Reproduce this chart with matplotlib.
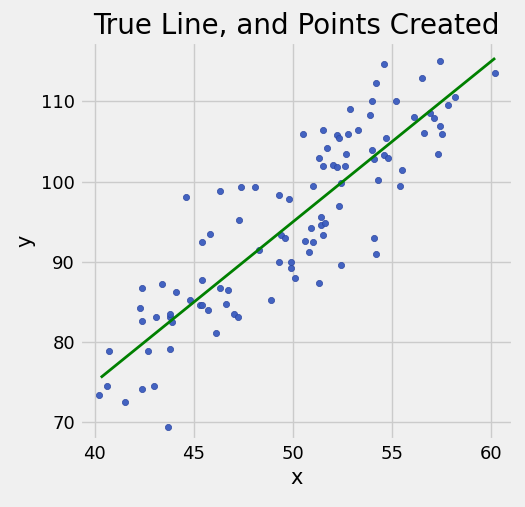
import matplotlib
matplotlib.use("Agg")
import matplotlib.pyplot as plt
import numpy as np

x_vals = [40.2, 40.6, 40.7, 41.5, 42.3, 42.4, 42.4, 42.4, 42.7, 43.0, 43.1, 43.4, 43.7, 43.8, 43.8, 43.8,
          43.9, 44.1, 44.6, 44.8, 45.3, 45.4, 45.4, 45.4, 45.7, 45.8, 46.1, 46.3, 46.3, 46.6, 46.7, 47.0,
          47.2, 47.3, 47.4, 48.1, 48.3, 48.9, 49.3, 49.3, 49.4, 49.6, 49.8, 49.9, 49.9, 50.1, 50.5, 50.6,
          50.8, 50.9, 51.0, 51.0, 51.3, 51.3, 51.4, 51.4, 51.5, 51.5, 51.5, 51.6, 51.7, 52.0, 52.2, 52.3,
          52.2, 52.3, 52.4, 52.4, 52.6, 52.7, 52.8, 52.9, 53.3, 53.9, 54.0, 54.0, 54.1, 54.1, 54.2, 54.2,
          54.3, 54.6, 54.6, 54.7, 54.8, 55.2, 55.4, 55.5, 56.1, 56.5, 56.6, 56.9, 57.1, 57.3, 57.4, 57.4,
          57.5, 57.8, 58.2, 60.2]
y_vals = [73.4, 74.5, 78.9, 72.5, 84.2, 82.7, 86.7, 74.2, 78.9, 74.5, 83.1, 87.2, 69.4, 83.1, 83.5, 79.1,
          82.5, 86.3, 98.1, 85.2, 84.6, 84.6, 92.5, 87.7, 84.0, 93.5, 81.1, 86.8, 98.9, 84.8, 86.5, 83.5,
          83.2, 95.2, 99.4, 99.4, 91.5, 85.2, 98.3, 90.0, 93.3, 93.0, 97.9, 90.0, 89.2, 88.0, 106.0, 92.6,
          91.3, 94.2, 92.5, 99.5, 87.4, 103.0, 95.6, 94.6, 106.5, 93.4, 102.0, 94.8, 104.2, 102.1, 105.8, 105.5,
          101.8, 97.0, 89.6, 99.9, 102.0, 103.5, 106.0, 109.0, 106.5, 108.3, 110.1, 104.0, 102.8, 93.0, 91.0, 112.3,
          100.2, 114.7, 103.3, 105.5, 102.9, 110.0, 99.5, 101.5, 108.1, 112.9, 106.1, 108.6, 108.0, 103.5, 115.1, 107.0,
          105.9, 109.6, 110.5, 113.6]

# true line y = 2x - 5
slope = 2.0
intercept = -5.0

plt.style.use("fivethirtyeight")
fig, ax = plt.subplots(figsize=(5.25, 5.07), dpi=100)
fig.patch.set_facecolor("#f0f0f0")
ax.set_facecolor("#f0f0f0")

ax.scatter(x_vals, y_vals, s=20, color="#3a5bbf", edgecolors="#2a45a0", linewidths=0.5, alpha=0.95, zorder=3)
xs = np.array([min(x_vals) + 0.1, max(x_vals)])
ax.plot(xs, slope * xs + intercept, color="green", lw=2, zorder=4)

ax.set_xlim(39.24, 61.1)
ax.set_ylim(67.8, 117.4)
ax.set_xticks([40, 45, 50, 55, 60])
ax.set_yticks([70, 80, 90, 100, 110])
ax.set_xlabel("x", fontsize=15)
ax.set_ylabel("y", fontsize=15)
ax.set_title("True Line, and Points Created", fontsize=20)
ax.tick_params(labelsize=13)
fig.subplots_adjust(left=0.152, right=0.977, top=0.917, bottom=0.132)
fig.savefig("out.png")
